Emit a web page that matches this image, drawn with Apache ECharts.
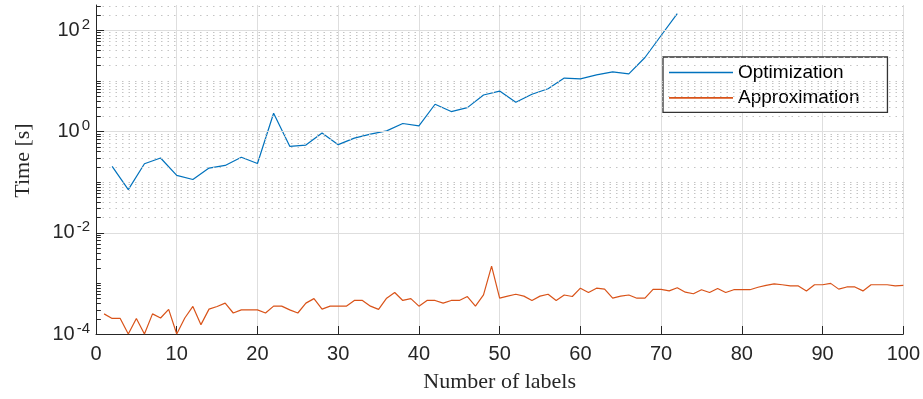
<!DOCTYPE html>
<html>
<head>
<meta charset="utf-8">
<script src="https://cdn.jsdelivr.net/npm/echarts@6/dist/echarts.min.js"></script>
<style>
html,body{margin:0;padding:0;background:#fff;}
#c{width:923px;height:399px;}
</style>
</head>
<body>
<div id="c"></div>
<script>
// ---- data ----
const optX = [2,4,6,8,10,12,14,16,18,20,22,24,26,28,30,32,34,36,38,40,42,44,46,48,50,52,54,56,58,60,62,64,66,68,70,72];
const optY = [0.205,0.071,0.231,0.30,0.136,0.113,0.19,0.214,0.31,0.234,2.30,0.51,0.54,0.94,0.55,0.74,0.89,1.03,1.44,1.29,3.46,2.48,2.97,5.27,6.3,3.79,5.45,7.0,11.4,11.0,13.2,15.1,13.8,29,79,214];
const apxX = [1,2,3,4,5,6,7,8,9,10,11,12,13,14,15,16,17,18,19,20,21,22,23,24,25,26,27,28,29,30,31,32,33,34,35,36,37,38,39,40,41,42,43,44,45,46,47,48,49,50,51,52,53,54,55,56,57,58,59,60,61,62,63,64,65,66,67,68,69,70,71,72,73,74,75,76,77,78,79,80,81,82,83,84,85,86,87,88,89,90,91,92,93,94,95,96,97,98,99,100];
const apxY = [2.5e-4,2.03e-4,2.03e-4,1.0e-4,2.03e-4,1.0e-4,2.5e-4,2.07e-4,3.06e-4,1.0e-4,
  2.07e-4,3.5e-4,1.53e-4,3.1e-4,3.5e-4,4.07e-4,2.6e-4,3.0e-4,3.0e-4,3.0e-4,
  2.6e-4,3.55e-4,3.55e-4,3.0e-4,2.6e-4,4.07e-4,5.0e-4,3.1e-4,3.55e-4,3.55e-4,
  3.55e-4,4.6e-4,4.6e-4,3.55e-4,3.06e-4,5.1e-4,6.6e-4,4.6e-4,5.0e-4,3.55e-4,
  4.6e-4,4.6e-4,4.07e-4,4.6e-4,4.6e-4,5.5e-4,3.55e-4,5.94e-4,2.2e-3,5.1e-4,
  5.6e-4,6.1e-4,5.6e-4,4.6e-4,5.6e-4,6.1e-4,4.6e-4,5.9e-4,5.5e-4,8.05e-4,
  6.6e-4,8.05e-4,7.7e-4,5.1e-4,5.6e-4,5.9e-4,5.1e-4,5.1e-4,7.6e-4,7.6e-4,
  7.1e-4,8.2e-4,6.7e-4,6.25e-4,7.5e-4,6.6e-4,7.9e-4,6.6e-4,7.5e-4,7.5e-4,
  7.5e-4,8.4e-4,9.1e-4,9.8e-4,9.4e-4,8.9e-4,8.9e-4,7.1e-4,9.4e-4,9.4e-4,
  1.0e-3,7.7e-4,8.5e-4,8.5e-4,7.1e-4,9.4e-4,9.4e-4,9.4e-4,8.9e-4,9.1e-4];
const seriesNames = ['Optimization','Approximation'];
const xTicks = [0,10,20,30,40,50,60,70,80,90,100];
const yMajorExp = [-4,-2,0,2];          // labelled decades
const yAllExp = [-4,-3,-2,-1,0,1,2];
const xTitle = 'Number of labels';
const yTitle = 'Time [s]';

// ---- build ----
const yMin = 1e-4, yMax = Math.pow(10, 2.5);
const minorVals = [];
yAllExp.forEach(e => {
  for (let k = 1; k <= 9; k++) {
    if (k === 1 && yMajorExp.indexOf(e) >= 0) continue;
    const v = k * Math.pow(10, e);
    if (v < yMax) minorVals.push(v);
  }
});
const majorVals = yMajorExp.map(e => Math.pow(10, e));

const axisColor = '#262626';
const tickStyle = {color: axisColor, type: 'solid', width: 1};
const chart = echarts.init(document.getElementById('c'), null, {renderer: 'canvas'});
chart.setOption({
  animation: false,
  backgroundColor: '#fff',
  grid: {left: 96, right: 18, top: 5, bottom: 65, containLabel: false},
  legend: {
    data: seriesNames.map(n => ({name: n, icon: 'rect'})),
    orient: 'vertical',
    left: 663, top: 57,
    padding: [6, 28, 5, 6],
    itemWidth: 64, itemHeight: 1.6, itemGap: 6.4,
    backgroundColor: '#fff',
    borderColor: '#333', borderWidth: 1.3, borderRadius: 0,
    textStyle: {fontFamily: 'Liberation Sans', fontSize: 19, color: '#000', lineHeight: 19}
  },
  xAxis: {
    type: 'value', min: 0, max: 100, interval: 10,
    name: xTitle, nameLocation: 'middle', nameGap: 37,
    nameTextStyle: {fontFamily: 'Liberation Serif', fontSize: 22, color: axisColor},
    axisLine: {show: true, lineStyle: {color: axisColor, width: 1}},
    axisTick: {show: true, inside: true, length: 8, lineStyle: {color: axisColor}},
    axisLabel: {margin: 10, fontFamily: 'Liberation Sans', fontSize: 20, color: axisColor,
      formatter: v => (xTicks.indexOf(v) >= 0 ? String(v) : '')},
    splitLine: {show: true, showMinLine: false, lineStyle: {color: '#dedede', width: 1}}
  },
  yAxis: {
    type: 'log', logBase: 10, min: yMin, max: yMax,
    name: yTitle, nameLocation: 'middle', nameGap: 62,
    nameTextStyle: {fontFamily: 'Liberation Serif', fontSize: 22, color: axisColor, padding: [0, 0, 0, 18]},
    axisLine: {show: true, lineStyle: {color: axisColor, width: 1}},
    axisTick: {show: false},
    axisLabel: {
      margin: 6, color: axisColor,
      formatter: function (v) {
        const l = Math.log10(v), e = Math.round(l);
        if (Math.abs(l - e) > 1e-6 || yMajorExp.indexOf(e) < 0) return '';
        return '{b|10}{s|' + e + '}';
      },
      rich: {
        b: {fontFamily: 'Liberation Sans', fontSize: 20, lineHeight: 26, color: axisColor},
        s: {fontFamily: 'Liberation Sans', fontSize: 15, lineHeight: 15, verticalAlign: 'top', color: axisColor, padding: [0, 0, 0, 2]}
      }
    },
    splitLine: {show: false}
  },
  series: [
    {
      name: '_grid', type: 'line', data: [], z: 1, silent: true,
      markLine: {
        silent: true, symbol: ['none', 'none'], label: {show: false}, animation: false,
        lineStyle: {color: '#c4c4c4', type: [1.5, 5], width: 1},
        data: minorVals.map(v => ({yAxis: v}))
          .concat(majorVals.filter(v => v > yMin).map(v => ({yAxis: v, lineStyle: {color: '#dedede', type: 'solid', width: 1}})))
          .concat(minorVals.map(v => [
            {coord: [0, v], lineStyle: tickStyle},
            {coord: [0.6, v]}
          ]))
          .concat(majorVals.map(v => [
            {coord: [0, v], lineStyle: tickStyle},
            {coord: [1.0, v]}
          ]))
      }
    },
    {
      name: seriesNames[0], type: 'line', z: 3,
      data: optX.map((x, i) => [x, optY[i]]),
      showSymbol: false, symbol: 'none',
      lineStyle: {color: '#0072BD', width: 1.2}, itemStyle: {color: '#0072BD'}
    },
    {
      name: seriesNames[1], type: 'line', z: 3,
      data: apxX.map((x, i) => [x, apxY[i]]),
      showSymbol: false, symbol: 'none',
      lineStyle: {color: '#D95319', width: 1.2}, itemStyle: {color: '#D95319'}
    }
  ]
});
</script>
</body>
</html>
